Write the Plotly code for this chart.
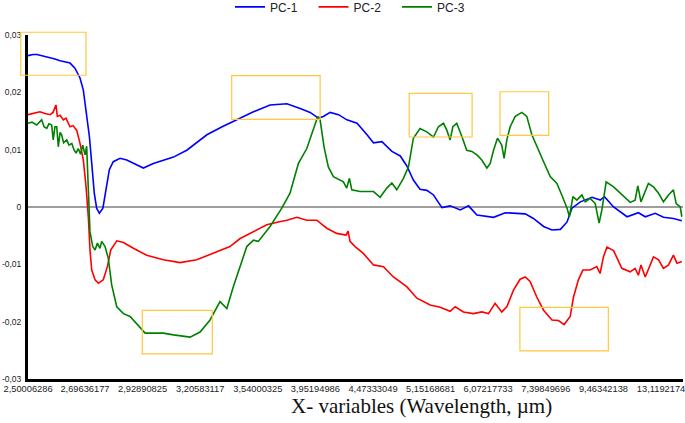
import plotly.graph_objects as go

# x positions: wavenumber (cm-1); axis labelled in wavelength (µm)
pc1_x = [4000, 3974, 3954, 3918, 3887, 3862, 3836, 3811, 3785, 3760, 3734, 3717, 3700, 3686, 3674,
         3661, 3649, 3635, 3617, 3601, 3584, 3564, 3529, 3495, 3452, 3410, 3359, 3256, 3188, 3085,
         3007, 2915, 2847, 2762, 2676, 2608, 2557, 2515, 2489, 2455, 2412, 2369, 2317, 2266, 2233,
         2190, 2139, 2096, 2063, 2029, 1995, 1960, 1926, 1883, 1841, 1789, 1747, 1704, 1653, 1619,
         1559, 1508, 1457, 1415, 1363, 1320, 1277, 1243, 1218, 1175, 1115, 1073, 1052, 1005, 936,
         878, 843, 792, 750, 699, 656]
pc1_y = [0.0264, 0.0266, 0.0266, 0.0263, 0.0261, 0.0258, 0.0255, 0.0253, 0.0251, 0.0242, 0.0225,
         0.0204, 0.0164, 0.0123, 0.0076, 0.0024, -0.0002, -0.0011, -0.0002, 0.0030, 0.0065, 0.0079,
         0.0085, 0.0082, 0.0075, 0.0068, 0.0076, 0.0087, 0.0099, 0.0126, 0.0140, 0.0155, 0.0166,
         0.0178, 0.0180, 0.0172, 0.0165, 0.0155, 0.0158, 0.0165, 0.0161, 0.0152, 0.0146, 0.0126,
         0.0112, 0.0114, 0.0097, 0.0089, 0.0072, 0.0047, 0.0031, 0.0029, 0.0021, -0.0001, 0.0002,
         -0.0005, 0.0002, -0.0014, -0.0016, -0.0018, -0.0010, -0.0011, -0.0012, -0.0020, -0.0034,
         -0.0040, -0.0039, -0.0026, -0.0002, 0.0009, 0.0017, 0.0012, 0.0018, 0.0000, -0.0017,
         -0.0010, -0.0017, -0.0011, -0.0018, -0.0020, -0.0024]

pc2_x = [4000, 3969, 3939, 3913, 3887, 3872, 3857, 3850, 3836, 3819, 3806, 3785, 3770, 3751, 3734,
         3717, 3703, 3691, 3683, 3674, 3657, 3640, 3615, 3594, 3577, 3546, 3512, 3461, 3393, 3308,
         3222, 3137, 3069, 3018, 2967, 2915, 2847, 2779, 2720, 2676, 2625, 2574, 2523, 2472, 2421,
         2373, 2363, 2353, 2327, 2285, 2233, 2182, 2131, 2063, 2011, 1943, 1892, 1841, 1815, 1773,
         1722, 1679, 1645, 1611, 1577, 1551, 1517, 1483, 1457, 1432, 1398, 1363, 1320, 1287, 1258,
         1227, 1210, 1185, 1162, 1125, 1091, 1074, 1057, 1039, 1005, 963, 920, 895, 878, 865, 843,
         801, 775, 750, 724, 699, 681, 656]
pc2_y = [0.0161, 0.0163, 0.0166, 0.0163, 0.0161, 0.0165, 0.0178, 0.0158, 0.0160, 0.0152, 0.0155,
         0.0140, 0.0142, 0.0134, 0.0111, 0.0082, 0.0035, -0.0020, -0.0075, -0.0110, -0.0127, -0.0133,
         -0.0127, -0.0104, -0.0075, -0.0059, -0.0062, -0.0072, -0.0084, -0.0092, -0.0097, -0.0092,
         -0.0083, -0.0075, -0.0069, -0.0055, -0.0043, -0.0031, -0.0026, -0.0023, -0.0018, -0.0023,
         -0.0023, -0.0037, -0.0046, -0.0049, -0.0042, -0.0060, -0.0069, -0.0081, -0.0101, -0.0104,
         -0.0122, -0.0139, -0.0159, -0.0171, -0.0175, -0.0182, -0.0174, -0.0183, -0.0186, -0.0183,
         -0.0186, -0.0168, -0.0183, -0.0174, -0.0145, -0.0126, -0.0122, -0.0130, -0.0157, -0.0180,
         -0.0197, -0.0198, -0.0205, -0.0191, -0.0157, -0.0127, -0.0110, -0.0110, -0.0104, -0.0116,
         -0.0087, -0.0070, -0.0076, -0.0107, -0.0113, -0.0107, -0.0119, -0.0101, -0.0122, -0.0087,
         -0.0092, -0.0107, -0.0101, -0.0084, -0.0098, -0.0095]

pc3_x = [4000, 3980, 3956, 3930, 3918, 3904, 3893, 3879, 3871, 3862, 3853, 3845, 3836, 3828, 3818,
         3802, 3790, 3776, 3765, 3754, 3743, 3731, 3720, 3708, 3700, 3691, 3688, 3683, 3669, 3657,
         3645, 3632, 3623, 3606, 3589, 3572, 3546, 3512, 3478, 3444, 3401, 3359, 3308, 3256, 3205,
         3171, 3120, 3069, 3018, 2983, 2950, 2915, 2881, 2847, 2822, 2762, 2702, 2660, 2634, 2617,
         2574, 2540, 2518, 2506, 2486, 2464, 2438, 2387, 2370, 2356, 2344, 2302, 2233, 2199, 2165,
         2139, 2114, 2080, 2054, 2029, 1995, 1960, 1926, 1901, 1875, 1858, 1841, 1827, 1807, 1781,
         1756, 1730, 1704, 1679, 1653, 1636, 1619, 1599, 1577, 1565, 1551, 1534, 1508, 1474, 1449,
         1423, 1398, 1363, 1329, 1295, 1270, 1243, 1231, 1213, 1193, 1167, 1150, 1125, 1099, 1079,
         1065, 1043, 1005, 963, 920, 895, 881, 865, 827, 801, 775, 750, 724, 699, 685, 664, 656]
pc3_y = [0.0146, 0.0148, 0.0143, 0.0152, 0.0140, 0.0137, 0.0145, 0.0143, 0.0117, 0.0140, 0.0140,
         0.0105, 0.0130, 0.0126, 0.0112, 0.0117, 0.0108, 0.0111, 0.0100, 0.0094, 0.0102, 0.0092,
         0.0108, 0.0091, 0.0106, 0.0035, -0.0005, -0.0043, -0.0069, -0.0075, -0.0063, -0.0072,
         -0.0060, -0.0069, -0.0090, -0.0136, -0.0174, -0.0186, -0.0191, -0.0203, -0.0220, -0.0220,
         -0.0220, -0.0223, -0.0226, -0.0227, -0.0218, -0.0197, -0.0165, -0.0177, -0.0139, -0.0104,
         -0.0069, -0.0058, -0.0060, -0.0034, -0.0002, 0.0024, 0.0053, 0.0076, 0.0102, 0.0134,
         0.0158, 0.0152, 0.0105, 0.0070, 0.0053, 0.0044, 0.0033, 0.0050, 0.0030, 0.0027, 0.0027,
         0.0017, 0.0033, 0.0042, 0.0030, 0.0050, 0.0070, 0.0120, 0.0137, 0.0131, 0.0122, 0.0140,
         0.0146, 0.0134, 0.0117, 0.0140, 0.0146, 0.0123, 0.0099, 0.0097, 0.0091, 0.0082, 0.0068,
         0.0076, 0.0099, 0.0120, 0.0108, 0.0085, 0.0117, 0.0140, 0.0158, 0.0165, 0.0158, 0.0126,
         0.0105, 0.0079, 0.0053, 0.0041, 0.0021, -0.0002, -0.0017, 0.0018, 0.0012, 0.0021, 0.0009,
         0.0015, 0.0006, -0.0028, -0.0005, 0.0044, 0.0035, 0.0021, 0.0008, 0.0012, 0.0037, 0.0009,
         0.0041, 0.0035, 0.0024, 0.0009, 0.0021, 0.0030, 0.0006, 0.0000, -0.0017]

x_tick_labels = ["2,50006286", "2,69636177", "2,92890825", "3,20583117", "3,54000325",
                 "3,95194986", "4,47333049", "5,15168681", "6,07217733", "7,39849696",
                 "9,46342138", "13,1192174"]
y_tick_vals = [-0.03, -0.02, -0.01, 0, 0.01, 0.02, 0.03]
y_tick_text = ["-0,03", "-0,02", "-0,01", "0", "0,01", "0,02", "0,03"]

# highlight boxes (paper coordinates): x0, x1, y0, y1
boxes = [(-0.011, 0.0885, 0.883, 1.008),
         (0.311, 0.446, 0.755, 0.882),
         (0.582, 0.678, 0.7035, 0.8305),
         (0.7206, 0.795, 0.708, 0.835),
         (0.751, 0.886, 0.082, 0.208),
         (0.1745, 0.2814, 0.073, 0.1997)]

x_tick_vals = [1e4 / float(s.replace(",", ".")) for s in x_tick_labels]

fig = go.Figure()
for name, xs, ys, col in [("PC-1", pc1_x, pc1_y, "#0000FF"),
                          ("PC-2", pc2_x, pc2_y, "#FF0000"),
                          ("PC-3", pc3_x, pc3_y, "#008000")]:
    fig.add_trace(go.Scatter(x=xs, y=ys, mode="lines", name=name,
                             line=dict(color=col, width=1.6)))

shapes = [dict(type="rect", xref="paper", yref="paper", x0=b[0], x1=b[1], y0=b[2], y1=b[3],
               line=dict(color="#FFC83D", width=1.2), fillcolor="rgba(0,0,0,0)", layer="above")
          for b in boxes]

fig.update_layout(
    width=685, height=423,
    margin=dict(l=28, r=2, t=35, b=44, autoexpand=False),
    paper_bgcolor="white", plot_bgcolor="white",
    font=dict(family="Liberation Sans, Arial", size=10, color="#222"),
    showlegend=True,
    legend=dict(orientation="h", x=0.5, xanchor="center", y=1.124, yanchor="top",
                font=dict(size=12, color="#222"), entrywidth=38.5, entrywidthmode="pixels",
                itemwidth=30, bgcolor="rgba(0,0,0,0)"),
    xaxis=dict(range=[4000, 650], tickvals=x_tick_vals, ticktext=x_tick_labels,
               showgrid=False, zeroline=False, showline=True, linecolor="black", linewidth=3,
               ticks="", ticklabelstandoff=-1, automargin=False,
               ticklabeloverflow="allow", tickfont=dict(size=9.3, color="#222")),
    yaxis=dict(range=[-0.03, 0.03], tickvals=y_tick_vals, ticktext=y_tick_text,
               showgrid=False, zeroline=True, zerolinecolor="#9E9E9E", zerolinewidth=1.5,
               showline=True, linecolor="black", linewidth=3, automargin=False,
               ticks="outside", ticklen=2, tickcolor="rgba(0,0,0,0)",
               ticklabeloverflow="allow", tickfont=dict(size=8.5, color="#222")),
    shapes=shapes,
    annotations=[dict(text="X- variables (Wavelength, µm)", xref="paper", yref="paper",
                      x=(421 - 28) / 655, y=-0.078, xanchor="center", yanchor="middle",
                      showarrow=False,
                      font=dict(family="Liberation Serif, Times New Roman", size=21, color="#111"))],
)

fig.write_html("out.html", config={"displayModeBar": False},
               post_script="document.body.style.margin='0';document.body.style.padding='0';")
